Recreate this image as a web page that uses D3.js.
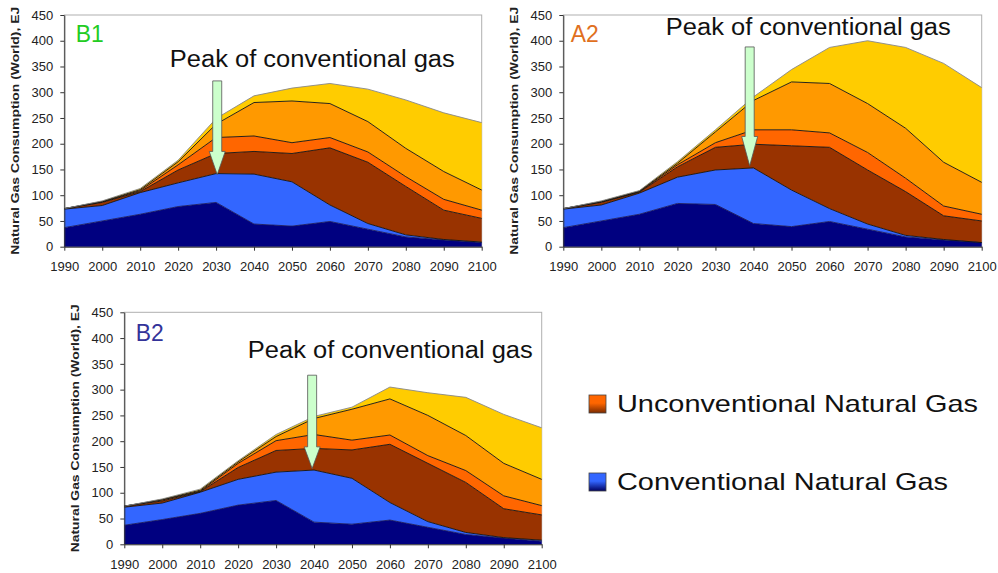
<!DOCTYPE html>
<html>
<head>
<meta charset="utf-8">
<script src="https://cdn.jsdelivr.net/npm/d3@7/dist/d3.min.js"></script>
<style>
  body { margin: 0; background: #fff; }
  svg { display: block; font-family: "Liberation Sans", Arial, sans-serif; }
</style>
</head>
<body>
<svg id="chart" width="998" height="573"></svg>
<script>
"use strict"

// Years and axis ticks
var years = [1990, 2000, 2010, 2020, 2030, 2040, 2050, 2060, 2070, 2080, 2090, 2100];
var yTicks = [0, 50, 100, 150, 200, 250, 300, 350, 400, 450];

// Layer keys (bottom to top) and colours
var layerKeys = ["conv1", "conv2", "unconv1", "unconv2", "unconv3", "unconv4"];
var layerColors = ["#000080", "#3366FF", "#993300", "#FF6600", "#FF9900", "#FFCC00"];

// B1 scenario, EJ per layer
var b1Conv1   = [37, 50, 63, 78, 86, 44, 40, 49, 34, 19, 13, 8];
var b1Conv2   = [36, 30, 42, 46, 56, 97, 86, 32, 11, 4, 1, 1];
var b1Unconv1 = [1, 6, 2, 25, 39, 44, 55, 111, 119, 94, 57, 46];
var b1Unconv2 = [0, 1, 2, 10, 31, 30, 21, 20, 20, 19, 21, 16];
var b1Unconv3 = [0, 1, 2, 6, 26, 65, 81, 66, 59, 55, 54, 39];
var b1Unconv4 = [0, 1, 2, 3, 11, 13, 25, 39, 63, 94, 114, 131];

// A2 scenario
var a2Conv1   = [37, 50, 63, 84, 82, 45, 39, 49, 34, 19, 13, 8];
var a2Conv2   = [36, 31, 41, 51, 67, 108, 71, 25, 10, 3, 1, 0];
var a2Unconv1 = [1, 5, 2, 20, 44, 46, 86, 119, 105, 85, 46, 42];
var a2Unconv2 = [0, 1, 1, 4, 9, 28, 31, 28, 34, 26, 19, 13];
var a2Unconv3 = [0, 1, 1, 3, 21, 57, 93, 96, 95, 97, 85, 62];
var a2Unconv4 = [0, 1, 1, 3, 4, 7, 24, 70, 122, 157, 192, 184];

// B2 scenario
var b2Conv1   = [37, 48, 60, 76, 85, 43, 39, 47, 33, 19, 12, 6];
var b2Conv2   = [35, 32, 41, 50, 55, 101, 89, 34, 11, 4, 1, 2];
var b2Unconv1 = [2, 4, 1, 23, 42, 42, 55, 113, 113, 97, 56, 49];
var b2Unconv2 = [0, 2, 1, 8, 19, 27, 19, 18, 15, 23, 25, 18];
var b2Unconv3 = [0, 1, 2, 3, 8, 31, 60, 70, 78, 68, 63, 51];
var b2Unconv4 = [0, 1, 2, 2, 4, 4, 4, 23, 44, 74, 95, 100];

// Legend
var legendLabels = ["Unconventional Natural Gas", "Conventional Natural Gas"];
var legendWidths = [361, 331];

var svg = d3.select("#chart");

// gradients for the legend squares
var defs = svg.append("defs");
function gradient(id, top, bottom) {
    var g = defs.append("linearGradient").attr("id", id)
        .attr("x1", 0).attr("y1", 0).attr("x2", 0).attr("y2", 1);
    g.append("stop").attr("offset", "0%").attr("stop-color", top);
    g.append("stop").attr("offset", "45%").attr("stop-color", top);
    g.append("stop").attr("offset", "100%").attr("stop-color", bottom);
}
gradient("gradUnconv", "#FF6600", "#7a2a00");
gradient("gradConv", "#3366FF", "#000060");

function buildRows(series) {
    return years.map(function(yr, i) {
        var row = { year: yr };
        layerKeys.forEach(function(k, j) { row[k] = series[j][i]; });
        return row;
    });
}

function drawChart(opts) {
    var x = d3.scaleLinear().domain([1990, 2100]).range([opts.left, opts.right]);
    var y = d3.scaleLinear().domain([0, 450]).range([opts.bottom, opts.top]);

    var g = svg.append("g");

    // plot border
    g.append("rect")
        .attr("x", opts.left).attr("y", opts.top)
        .attr("width", opts.right - opts.left).attr("height", opts.bottom - opts.top)
        .attr("fill", "none").attr("stroke", "#b0b0b0").attr("stroke-width", 1);

    var stacked = d3.stack().keys(layerKeys)(buildRows(opts.series));

    var area = d3.area()
        .x(function(d) { return x(d.data.year); })
        .y0(function(d) { return y(d[0]); })
        .y1(function(d) { return y(d[1]); });

    g.selectAll("path.area")
        .data(stacked).enter()
        .append("path")
        .attr("class", "area")
        .attr("fill", function(d, i) { return layerColors[i]; })
        .attr("d", area);

    var line = d3.line()
        .x(function(d) { return x(d.data.year); })
        .y(function(d) { return y(d[1]); });

    g.selectAll("path.line")
        .data(stacked).enter()
        .append("path")
        .attr("class", "line")
        .attr("fill", "none")
        .attr("stroke", function(d, i) { return i === stacked.length - 1 ? "#888" : (i === 0 ? "#1a1a60" : "#111"); })
        .attr("stroke-width", 0.9)
        .attr("d", line);

    // axes
    var yAxis = g.append("g")
        .attr("transform", "translate(" + opts.left + ",0)")
        .call(d3.axisLeft(y).tickValues(yTicks).tickSize(4).tickSizeOuter(0).tickPadding(7));
    var xAxis = g.append("g")
        .attr("transform", "translate(0," + opts.bottom + ")")
        .call(d3.axisBottom(x).tickValues(years).tickFormat(d3.format("d")).tickSize(4).tickSizeOuter(0).tickPadding(11));
    [yAxis, xAxis].forEach(function(a) {
        a.selectAll("text").attr("fill", "#222").style("font-size", "13px")
            .style("font-family", "'Liberation Sans', Arial, sans-serif");
        a.selectAll("line").attr("stroke", "#333");
        a.select(".domain").attr("stroke", "#333");
    });

    // y axis title
    var cy = (opts.top + opts.bottom) / 2;
    g.append("text")
        .attr("transform", "translate(" + (opts.left - 49) + "," + cy + ") rotate(-90)")
        .attr("text-anchor", "middle")
        .attr("dominant-baseline", "central")
        .attr("textLength", 248)
        .attr("lengthAdjust", "spacingAndGlyphs")
        .style("font-size", "11px")
        .style("font-weight", "bold")
        .attr("fill", "#222")
        .text("Natural Gas Consumption (World), EJ");

    // scenario name
    g.append("text")
        .attr("x", opts.left + opts.labelDx).attr("y", opts.top + opts.labelDy)
        .attr("fill", opts.labelColor)
        .attr("textLength", 28)
        .attr("lengthAdjust", "spacingAndGlyphs")
        .style("font-size", "23px")
        .text(opts.name);

    // peak annotation
    g.append("text")
        .attr("x", opts.left + opts.peakDx).attr("y", opts.top + opts.peakDy)
        .attr("fill", "#111")
        .attr("textLength", 285)
        .attr("lengthAdjust", "spacingAndGlyphs")
        .style("font-size", "23px")
        .text("Peak of conventional gas");

    var a = opts.arrow;
    var ax = x(a.year), sw = 4.5, hw = 8;
    var pts = [
        [ax - sw, y(a.top)], [ax + sw, y(a.top)], [ax + sw, y(a.headBase)],
        [ax + hw, y(a.headBase)], [ax, y(a.tip)], [ax - hw, y(a.headBase)],
        [ax - sw, y(a.headBase)]
    ];
    g.append("path")
        .attr("d", d3.line()(pts) + "Z")
        .attr("fill", "#CCFFCC")
        .attr("stroke", "#555")
        .attr("stroke-width", 0.8);
}

drawChart({
    name: "B1", labelColor: "#22CC22",
    left: 64.3, right: 481.7, top: 15, bottom: 246.7,
    labelDx: 11.5, labelDy: 27,
    peakDx: 105.5, peakDy: 52,
    arrow: { year: 2030.3, top: 322, headBase: 185, tip: 140 },
    series: [b1Conv1, b1Conv2, b1Unconv1, b1Unconv2, b1Unconv3, b1Unconv4]
});

drawChart({
    name: "A2", labelColor: "#E0701E",
    left: 563.3, right: 981.7, top: 15, bottom: 246.7,
    labelDx: 7.5, labelDy: 27,
    peakDx: 102.5, peakDy: 20,
    arrow: { year: 2039, top: 388, headBase: 214, tip: 157 },
    series: [a2Conv1, a2Conv2, a2Unconv1, a2Unconv2, a2Unconv3, a2Unconv4]
});

drawChart({
    name: "B2", labelColor: "#333399",
    left: 124.3, right: 541.7, top: 312.3, bottom: 544.3,
    labelDx: 11.5, labelDy: 29,
    peakDx: 123.5, peakDy: 46,
    arrow: { year: 2039.5, top: 328, headBase: 189, tip: 147 },
    series: [b2Conv1, b2Conv2, b2Unconv1, b2Unconv2, b2Unconv3, b2Unconv4]
});

// legend
var legend = svg.append("g")
    .attr("class", "legend")
    .attr("transform", "translate(589,395)");

legend.selectAll("rect")
    .data(legendLabels).enter()
    .append("rect")
    .attr("x", 0)
    .attr("y", function(d, i) { return i * 78; })
    .attr("width", 17).attr("height", 18)
    .attr("fill", function(d, i) { return i === 0 ? "url(#gradUnconv)" : "url(#gradConv)"; })
    .attr("stroke", "#444").attr("stroke-width", 0.8);

legend.selectAll("text")
    .data(legendLabels).enter()
    .append("text")
    .attr("x", 28)
    .attr("y", function(d, i) { return 17 + i * 78; })
    .attr("fill", "#111")
    .attr("textLength", function(d, i) { return legendWidths[i]; })
    .attr("lengthAdjust", "spacingAndGlyphs")
    .style("font-size", "24px")
    .text(function(d) { return d; });
</script>
</body>
</html>
